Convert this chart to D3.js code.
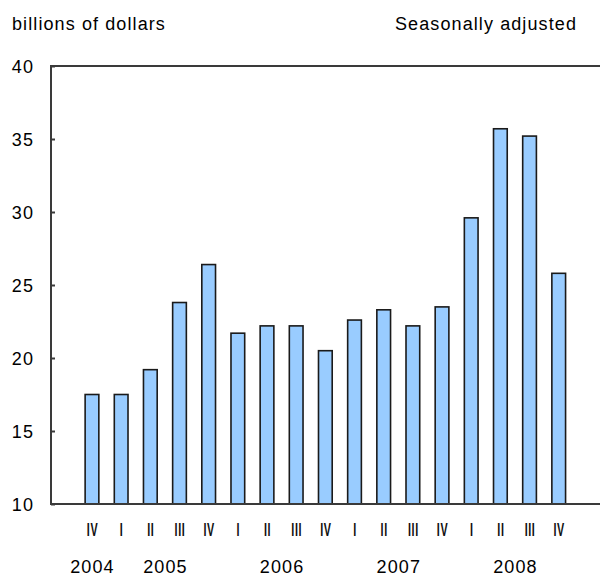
<!DOCTYPE html>
<html><head><meta charset="utf-8">
<script src="https://cdn.jsdelivr.net/npm/d3@7"></script>
<style>
body{margin:0;background:#fff;}
text{font-family:"Liberation Sans",Arial,sans-serif;font-size:18px;letter-spacing:1.1px;fill:#000;}
</style></head>
<body><svg id="c" width="601" height="576"></svg>
<script>
const quarters = ["IV","I","II","III","IV","I","II","III","IV","I","II","III","IV","I","II","III","IV"];
const years = ["2004","2005","2005","2005","2005","2006","2006","2006","2006","2007","2007","2007","2007","2008","2008","2008","2008"];
const values = [17.5,17.5,19.2,23.8,26.4,21.7,22.2,22.2,20.5,22.6,23.3,22.2,23.5,29.6,35.7,35.2,25.8];
const yTicks = [10,15,20,25,30,35,40];
const yearLabels = ["2004","2005","2006","2007","2008"];

(function(){
const svg = d3.select("#c");
const pLeft = 51, pRight = 600, pTop = 66, pBottom = 504;
const idx = d3.range(values.length);
const x = d3.scaleBand().domain(idx).range([77.4, 573.3]).paddingInner(0.53).paddingOuter(0.265);
const y = d3.scaleLinear().domain([10,40]).range([pBottom, pTop]);

// bars
svg.append("g").selectAll("rect").data(values).join("rect")
  .attr("x", (d,i) => x(i))
  .attr("width", x.bandwidth())
  .attr("y", d => y(d))
  .attr("height", d => pBottom - y(d))
  .attr("fill", "#99ccff")
  .attr("stroke", "#1a1a1a")
  .attr("stroke-width", 1.6);

// frame lines
const axisColor = "#3a3a3a";
svg.append("line").attr("x1", pLeft).attr("x2", pRight).attr("y1", pTop).attr("y2", pTop)
  .attr("stroke", axisColor).attr("stroke-width", 2);
svg.append("line").attr("x1", pLeft).attr("x2", pRight).attr("y1", pBottom).attr("y2", pBottom)
  .attr("stroke", axisColor).attr("stroke-width", 2);
svg.append("line").attr("x1", pLeft).attr("x2", pLeft).attr("y1", pTop-1).attr("y2", pBottom+1)
  .attr("stroke", axisColor).attr("stroke-width", 2);

// y axis ticks and labels
const yAxis = d3.axisRight(y).tickValues(yTicks).tickSize(4).tickFormat("");
const gy = svg.append("g").attr("transform", `translate(${pLeft},0)`).call(yAxis);
gy.select(".domain").remove();
gy.selectAll(".tick line").attr("stroke", axisColor).attr("stroke-width", 2);
svg.append("g").selectAll("text").data(yTicks).join("text")
  .attr("x", 34).attr("y", d => y(d) + 6.5)
  .attr("text-anchor", "end")
  .text(d => d);

// quarter labels (narrow roman numerals)
svg.append("g").selectAll("text").data(quarters).join("text")
  .attr("transform", (d,i) => `translate(${x(i) + x.bandwidth()/2 + 0.5},536) scale(0.6,1)`)
  .attr("text-anchor", "middle")
  .style("letter-spacing", "1px")
  .style("font-weight", "bold")
  .style("fill", "#111")
  .text(d => d);

// year labels centered over their quarters
svg.append("g").selectAll("text").data(yearLabels).join("text")
  .attr("x", yr => {
    const ii = idx.filter(i => years[i] === yr);
    return d3.mean(ii, i => x(i) + x.bandwidth()/2) + 0.5;
  })
  .attr("y", 573)
  .attr("text-anchor", "middle")
  .text(d => d);

// titles
svg.append("text").attr("x", 12).attr("y", 30).text("billions of dollars");
svg.append("text").attr("x", 577).attr("y", 30).attr("text-anchor", "end").text("Seasonally adjusted");
})();
</script></body></html>
